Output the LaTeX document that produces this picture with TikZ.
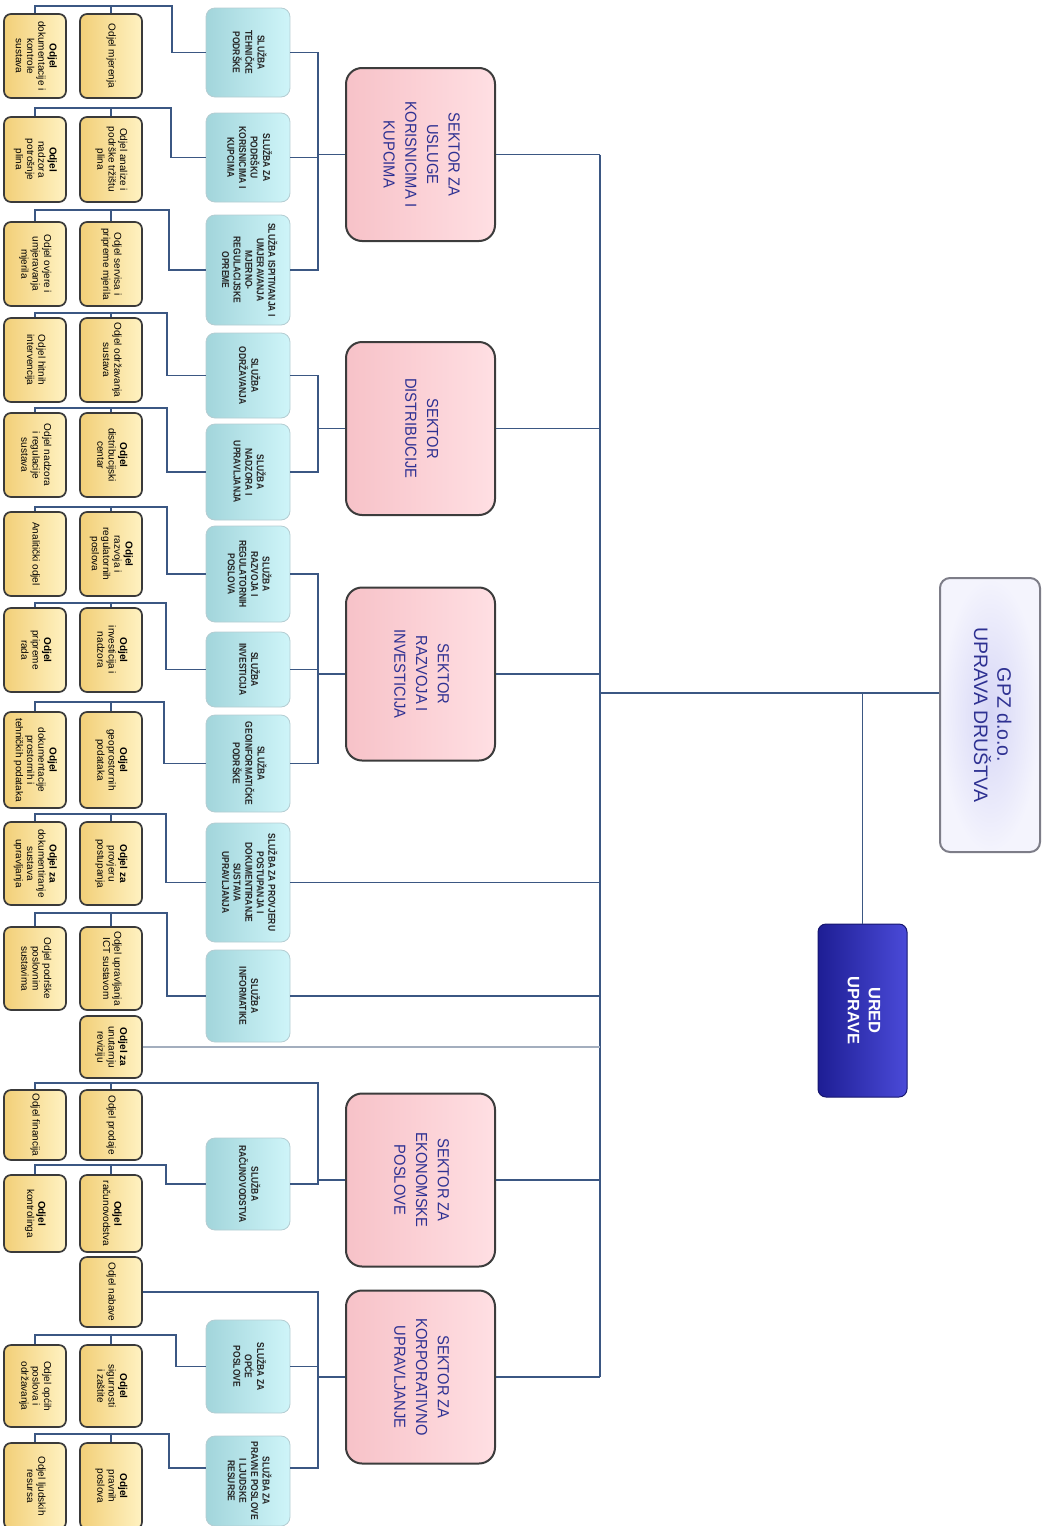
\documentclass[tikz,border=0pt]{standalone}
\usepackage{fontspec}
\setmainfont{Liberation Sans}
\usepackage{graphicx}
\usetikzlibrary{calc}
\definecolor{lineblue}{HTML}{3B5783}
\definecolor{revgray}{HTML}{A3AEBE}
\definecolor{odjL}{HTML}{F2CF78}
\definecolor{odjM}{HTML}{FDE39C}
\definecolor{odjR}{HTML}{FFF2C2}
\definecolor{odjB}{HTML}{3A3A3A}
\definecolor{svcL}{HTML}{A2D5DB}
\definecolor{svcM}{HTML}{B9E7EC}
\definecolor{svcR}{HTML}{CFF5F9}
\definecolor{svcB}{HTML}{B4CDD2}
\definecolor{secL}{HTML}{F7C2C8}
\definecolor{secM}{HTML}{FFD1D6}
\definecolor{secR}{HTML}{FFDFE3}
\definecolor{secB}{HTML}{3C3C3C}
\definecolor{sectext}{HTML}{2E3192}
\definecolor{gpzIn}{HTML}{D6D6F6}
\definecolor{gpzOut}{HTML}{F4F4FD}
\definecolor{gpzB}{HTML}{7D7D88}
\definecolor{uredL}{HTML}{1E1E94}
\definecolor{uredR}{HTML}{4A4AD8}
\definecolor{uredB}{HTML}{16166E}
\newcommand{\vt}[2]{\rotatebox{-90}{\scalebox{#1}[1]{\begin{tabular}{@{}c@{}}#2\end{tabular}}}}
\tikzset{
  conn/.style={draw=lineblue, line width=1.2pt},
  revconn/.style={draw=revgray, line width=1.3pt},
  odjel/.style={rectangle, rounded corners=7pt, draw=odjB, line width=1.7pt,
    left color=odjL, middle color=odjM, right color=odjR, minimum width=62pt,
    inner sep=0pt, text=black, font=\fontsize{10}{11.3}\selectfont},
  sluzba/.style={rectangle, rounded corners=9pt, draw=svcB, line width=0.8pt,
    left color=svcL, middle color=svcM, right color=svcR, minimum width=84pt,
    inner sep=0pt, text=black!85, font=\fontsize{10}{11.6}\selectfont\bfseries},
  sektor/.style={rectangle, rounded corners=16pt, draw=secB, line width=2pt,
    left color=secL, middle color=secM, right color=secR, minimum width=149pt,
    minimum height=173pt, inner sep=0pt, text=sectext, font=\fontsize{16}{21.7}\selectfont},
  gpzbox/.style={rectangle, rounded corners=10pt, draw=gpzB, line width=2pt,
    inner color=gpzIn, outer color=gpzOut, minimum width=100pt, minimum height=274pt,
    inner sep=0pt, text=sectext, font=\fontsize{19.5}{21}\selectfont},
  uredbox/.style={rectangle, rounded corners=8pt, draw=uredB, line width=1pt,
    left color=uredL, right color=uredR, minimum width=89pt, minimum height=173pt,
    inner sep=0pt, text=white, font=\fontsize{16.5}{21}\selectfont\bfseries}
}
\begin{document}
\begin{tikzpicture}[x=1pt,y=-1pt]
\useasboundingbox (0,0) rectangle (1043,1526);

% top level
\node[gpzbox] (gpz) at (990,715) {\vt{1}{GPZ d.o.o.\\UPRAVA DRUŠTVA}};
\node[uredbox] (ured) at (862.5,1010.5) {\vt{1}{URED\\UPRAVE}};

% sectors
\node[sektor] (s1) at (420.5,154.5) {\vt{0.92}{SEKTOR ZA\\USLUGE\\KORISNICIMA I\\KUPCIMA}};
\node[sektor] (s2) at (420.5,428.5) {\vt{0.92}{SEKTOR\\DISTRIBUCIJE}};
\node[sektor] (s3) at (420.5,674) {\vt{0.92}{SEKTOR\\RAZVOJA I\\INVESTICIJA}};
\node[sektor] (s4) at (420.5,1180) {\vt{0.92}{SEKTOR ZA\\EKONOMSKE\\POSLOVE}};
\node[sektor] (s5) at (420.5,1377) {\vt{0.92}{SEKTOR ZA\\KORPORATIVNO\\UPRAVLJANJE}};

% services
\node[sluzba, minimum height=89pt] (v1) at (248,52.5) {\vt{0.85}{SLUŽBA\\TEHNIČKE\\PODRŠKE}};
\node[sluzba, minimum height=89pt] (v2) at (248,157.5) {\vt{0.85}{SLUŽBA ZA\\PODRŠKU\\KORISNICIMA I\\KUPCIMA}};
\node[sluzba, minimum height=110pt] (v3) at (248,270) {\vt{0.85}{SLUŽBA ISPITIVANJA I\\UMJERAVANJA\\MJERNO-\\REGULACIJSKE\\OPREME}};
\node[sluzba, minimum height=85pt] (v4) at (248,375.5) {\vt{0.85}{SLUŽBA\\ODRŽAVANJA}};
\node[sluzba, minimum height=96pt] (v5) at (248,472) {\vt{0.85}{SLUŽBA\\NADZORA I\\UPRAVLJANJA}};
\node[sluzba, minimum height=96pt] (v6) at (248,574) {\vt{0.85}{SLUŽBA\\RAZVOJA I\\REGULATORNIH\\POSLOVA}};
\node[sluzba, minimum height=75pt] (v7) at (248,669.5) {\vt{0.85}{SLUŽBA\\INVESTICIJA}};
\node[sluzba, minimum height=97pt] (v8) at (248,763.5) {\vt{0.85}{SLUŽBA\\GEOINFORMATIČKE\\PODRŠKE}};
\node[sluzba, minimum height=119pt] (v9) at (248,882.5) {\vt{0.85}{SLUŽBA ZA PROVJERU\\POSTUPANJA I\\DOKUMENTIRANJE\\SUSTAVA\\UPRAVLJANJA}};
\node[sluzba, minimum height=92pt] (v10) at (248,996) {\vt{0.85}{SLUŽBA\\INFORMATIKE}};
\node[sluzba, minimum height=92pt] (v11) at (248,1184) {\vt{0.85}{SLUŽBA\\RAČUNOVODSTVA}};
\node[sluzba, minimum height=93pt] (v12) at (248,1366.5) {\vt{0.85}{SLUŽBA ZA\\OPĆE\\POSLOVE}};
\node[sluzba, minimum height=90pt] (v13) at (248,1481) {\vt{0.85}{SLUŽBA ZA\\PRAVNE POSLOVE\\I LJUDSKE\\RESURSE}};

% departments (R = column nearer services, L = outer column)
\node[odjel, minimum height=84pt] (r1) at (111,56) {\vt{1}{Odjel mjerenja}};
\node[odjel, minimum height=84pt] (l1) at (35,56) {\vt{1}{\textbf{Odjel}\\dokumentacije i\\kontrole\\sustava}};
\node[odjel, minimum height=85pt] (r2) at (111,159.5) {\vt{1}{Odjel analize i\\podrške tržištu\\plina}};
\node[odjel, minimum height=85pt] (l2) at (35,159.5) {\vt{1}{\textbf{Odjel}\\nadzora\\potrošnje\\plina}};
\node[odjel, minimum height=84pt] (r3) at (111,264) {\vt{1}{Odjel servisa i\\pripreme mjerila}};
\node[odjel, minimum height=84pt] (l3) at (35,264) {\vt{1}{Odjel ovjere i\\umjeravanja\\mjerila}};
\node[odjel, minimum height=84pt] (r4) at (111,360) {\vt{1}{Odjel održavanja\\sustava}};
\node[odjel, minimum height=84pt] (l4) at (35,360) {\vt{1}{Odjel hitnih\\intervencija}};
\node[odjel, minimum height=84pt] (r5) at (111,455) {\vt{1}{\textbf{Odjel}\\distribucijski\\centar}};
\node[odjel, minimum height=84pt] (l5) at (35,455) {\vt{1}{Odjel nadzora\\i regulacije\\sustava}};
\node[odjel, minimum height=84pt] (r6) at (111,554) {\vt{1}{\textbf{Odjel}\\razvoja i\\regulatornih\\poslova}};
\node[odjel, minimum height=84pt] (l6) at (35,554) {\vt{1}{Analitički odjel}};
\node[odjel, minimum height=84pt] (r7) at (111,650) {\vt{1}{\textbf{Odjel}\\investicija i\\nadzora}};
\node[odjel, minimum height=84pt] (l7) at (35,650) {\vt{1}{\textbf{Odjel}\\pripreme\\rada}};
\node[odjel, minimum height=96pt] (r8) at (111,760) {\vt{1}{\textbf{Odjel}\\geoprostornih\\podataka}};
\node[odjel, minimum height=96pt] (l8) at (35,760) {\vt{1}{\textbf{Odjel}\\dokumentacije\\prostornih i\\tehničkih podataka}};
\node[odjel, minimum height=83pt] (r9) at (111,863.5) {\vt{1}{\textbf{Odjel za}\\provjeru\\postupanja}};
\node[odjel, minimum height=83pt] (l9) at (35,863.5) {\vt{1}{\textbf{Odjel za}\\dokumentiranje\\sustava\\upravljanja}};
\node[odjel, minimum height=83pt] (r10) at (111,968.5) {\vt{1}{Odjel upravljanja\\ICT sustavom}};
\node[odjel, minimum height=83pt] (l10) at (35,968.5) {\vt{1}{Odjel podrške\\poslovnim\\sustavima}};
\node[odjel, minimum height=62pt] (rev) at (111,1047) {\vt{1}{\textbf{Odjel za}\\unutarnju\\reviziju}};
\node[odjel, minimum height=70pt] (r11) at (111,1125) {\vt{1}{Odjel prodaje}};
\node[odjel, minimum height=70pt] (l11) at (35,1125) {\vt{1}{Odjel financija}};
\node[odjel, minimum height=77pt] (r12) at (111,1213.5) {\vt{1}{\textbf{Odjel}\\računovodstva}};
\node[odjel, minimum height=77pt] (l12) at (35,1213.5) {\vt{1}{\textbf{Odjel}\\kontrolinga}};
\node[odjel, minimum height=70pt] (nab) at (111,1292) {\vt{1}{Odjel nabave}};
\node[odjel, minimum height=82pt] (r13) at (111,1386) {\vt{1}{\textbf{Odjel}\\sigurnosti\\i zaštite}};
\node[odjel, minimum height=82pt] (l13) at (35,1386) {\vt{1}{Odjel općih\\poslova i\\održavanja}};
\node[odjel, minimum height=86pt] (r14) at (111,1486) {\vt{1}{\textbf{Odjel}\\pravnih\\poslova}};
\node[odjel, minimum height=86pt] (l14) at (35,1486) {\vt{1}{Odjel ljudskih\\resursa}};

% helper coordinates
\coordinate (t) at (600,0);
\coordinate (k) at (318,0);
\coordinate (b1) at (172,6);
\coordinate (b2) at (171,108);
\coordinate (b3) at (169,210);
\coordinate (b4) at (167,313);
\coordinate (b5) at (167,408);
\coordinate (b6) at (167,507);
\coordinate (b7) at (166,603);
\coordinate (b8) at (164,702);
\coordinate (b9) at (166,814);
\coordinate (b10) at (167,913);
\coordinate (b11) at (318,1083);
\coordinate (b12) at (166,1165);
\coordinate (b13) at (176,1335);
\coordinate (b14) at (169,1434);
\coordinate (g) at ([yshift=22pt]gpz.west);
\coordinate (v13c) at ([yshift=13pt]v13.east);
\coordinate (v14c) at ([yshift=13pt]v13.west);

% department buses
\foreach \i/\v in {1/v1,2/v2,3/v3,4/v4,5/v5,6/v6,7/v7,8/v8,9/v9,10/v10,12/v11,13/v12}{
  \draw[conn] (l\i.north) |- (b\i) |- (\v.west);
  \draw[conn] (r\i.north) -- (r\i.north |- b\i);
}
\draw[conn] (l14.north) |- (b14) |- (v14c);
\draw[conn] (r14.north) -- (r14.north |- b14);
\draw[conn] (l11.north) |- (b11) |- (v11.east);
\draw[conn] (r11.north) -- (r11.north |- b11);

% sector to service buses
\draw[conn] (v1.east) -- (v1.east -| k) -- (v3.east -| k) -- (v3.east);
\draw[conn] (v2.east) -- (v2.east -| k);
\draw[conn] (s1.west) -- (s1.west -| k);
\draw[conn] (v4.east) -- (v4.east -| k) -- (v5.east -| k) -- (v5.east);
\draw[conn] (s2.west) -- (s2.west -| k);
\draw[conn] (v6.east) -- (v6.east -| k) -- (v8.east -| k) -- (v8.east);
\draw[conn] (v7.east) -- (v7.east -| k);
\draw[conn] (s3.west) -- (s3.west -| k);
\draw[conn] (s4.west) -- (s4.west -| k);
\draw[conn] (nab.east) -- (nab.east -| k) -- (v13c -| k) -- (v13c);
\draw[conn] (v12.east) -- (v12.east -| k);
\draw[conn] (s5.west) -- (s5.west -| k);

% main trunk
\draw[conn] (s1.east -| t) -- (s5.east -| t);
\foreach \s in {s1,s2,s3,s4,s5}{\draw[conn] (\s.east) -- (\s.east -| t);}
\draw[conn] (v9.east) -- (v9.east -| t);
\draw[conn] (v10.east) -- (v10.east -| t);
\draw[revconn] (rev.east) -- (rev.east -| t);
\draw[conn] (g) -- (g -| t);
\draw[conn] (ured.north) -- (ured.north |- g);
\end{tikzpicture}
\end{document}
